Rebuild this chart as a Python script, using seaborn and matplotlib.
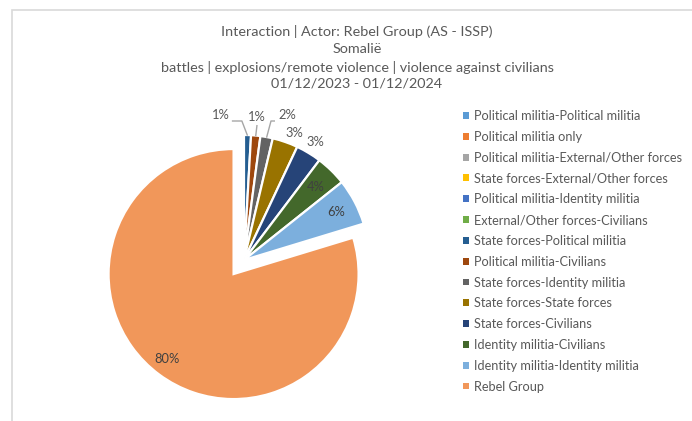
import numpy as np
import matplotlib
matplotlib.use("Agg")
import matplotlib.pyplot as plt
import seaborn as sns
from matplotlib.patches import Patch, Rectangle

# ---------------- data ----------------
categories = [
    "Political militia-Political militia",
    "Political militia only",
    "Political militia-External/Other forces",
    "State forces-External/Other forces",
    "Political militia-Identity militia",
    "External/Other forces-Civilians",
    "State forces-Political militia",
    "Political militia-Civilians",
    "State forces-Identity militia",
    "State forces-State forces",
    "State forces-Civilians",
    "Identity militia-Civilians",
    "Identity militia-Identity militia",
    "Rebel Group",
]
values = [0, 0, 0, 0, 0, 0, 0.9, 1.2, 1.6, 3.3, 3.3, 4.0, 6.0, 79.7]
colors = [
    "#5B9BD5", "#ED7D31", "#A5A5A5", "#FFC000", "#4472C4", "#70AD47",
    "#255E91", "#9E480E", "#636363", "#997300", "#264478", "#43682B",
    "#7CAFDD", "#F1975A",
]
title_lines = [
    "Interaction | Actor: Rebel Group (AS - ISSP)",
    "Somalië",
    "battles | explosions/remote violence | violence against civilians",
    "01/12/2023 - 01/12/2024",
]

# ---------------- style ----------------
sns.set_theme(style="white")
plt.rcParams['font.family'] = ['Lato', 'DejaVu Sans']
TXT = "#595959"
DARK = "#404040"

W, H = 692, 421
fig = plt.figure(figsize=(W / 100, H / 100), dpi=100)
fig.patch.set_facecolor("white")

# chart-area border (light gray)
fig.add_artist(Rectangle((12 / W, -0.1), 1.2, (H - 10) / H + 0.1,
                         transform=fig.transFigure, fill=False,
                         edgecolor="#D9D9D9", linewidth=1.2))

# axes placed so that 1 data unit = PX pixels, centre at (cx, cy) px
PX = 125
cx, cy = 244, 260
xl = (-1.5, 1.5)
yl = (-1.28, 1.5)
ax = fig.add_axes([(cx + xl[0] * PX) / W,
                   (H - (cy - yl[0] * PX)) / H,
                   (xl[1] - xl[0]) * PX / W,
                   (yl[1] - yl[0]) * PX / H])

vals = np.array(values, dtype=float)
nz = np.nonzero(vals)[0]
pie_vals = vals[nz]
pie_cols = [colors[i] for i in nz]
explode = [0.14 if categories[i] == "Rebel Group" else 0 for i in nz]

wedges, _ = ax.pie(pie_vals, colors=pie_cols, startangle=90,
                   counterclock=False, explode=explode,
                   wedgeprops=dict(edgecolor="white", linewidth=1.6))
ax.set_xlim(*xl)
ax.set_ylim(*yl)
ax.set_aspect("auto")
ax.axis("off")

total = pie_vals.sum()
pcts = [f"{round(v / total * 100):.0f}%" for v in pie_vals]

# label layout per visible wedge (style only)
layout = [
    ("lead", (-0.185, 1.16), [(-0.097, 1.112), (-0.017, 1.112)]),
    ("lead", (0.10, 1.145), [(0.104, 1.08)]),
    ("lead", (0.348, 1.16), [(0.248, 1.112), (0.216, 1.112)]),
    ("rad", 1.09, 2.5),
    ("rad", 1.10, 0.0),
    ("rad", 0.82, 0.0),
    ("rad", 0.83, 0.0),
    ("rad", 0.86, 1.5),
]

for w, p, lay in zip(wedges, pcts, layout):
    mid = np.deg2rad((w.theta1 + w.theta2) / 2)
    c = np.array(w.center)
    if lay[0] == "rad":
        r = lay[1]
        ang = mid - np.deg2rad(lay[2])
        pos = c + r * np.array([np.cos(ang), np.sin(ang)])
        col = DARK if r < 1 else TXT
        ax.text(pos[0], pos[1], p, ha="center", va="center",
                fontsize=9.3, color=col)
    else:
        tx, ty = lay[1]
        anchor = c + 0.995 * np.array([np.cos(mid), np.sin(mid)])
        pts = lay[2] + [tuple(anchor)]
        xs, ys = zip(*pts)
        ax.plot(xs, ys, color="#A6A6A6", linewidth=1.0,
                solid_capstyle="butt")
        ax.text(tx, ty, p, ha="center", va="center", fontsize=9.3, color=TXT)

# title
ys_px = [32, 49, 67, 84]
for line, ypx in zip(title_lines, ys_px):
    fig.text(357 / W, 1 - ypx / H, line, ha="center", va="center",
             fontsize=10.4, color=TXT)

# legend
handles = [Patch(facecolor=c, edgecolor="none") for c in colors]
leg = fig.legend(handles, categories, loc="upper left",
                 bbox_to_anchor=(463 / W, 1 - 110 / H),
                 frameon=False, fontsize=9.2, labelcolor=TXT,
                 handlelength=0.45, handleheight=0.45,
                 handletextpad=0.45, labelspacing=0.69,
                 borderpad=0, borderaxespad=0)

fig.savefig("out.png", dpi=100, facecolor="white")
